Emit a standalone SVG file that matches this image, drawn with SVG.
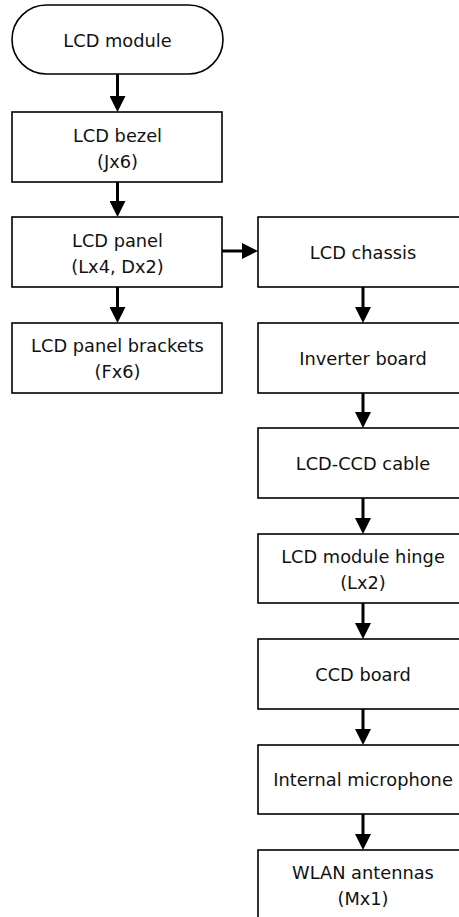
<svg xmlns="http://www.w3.org/2000/svg" width="459" height="917" viewBox="0 0 459 917">
<style>
  .box { fill: #ffffff; stroke: #000000; stroke-width: 1.6; }
  .lbl { font-family: "DejaVu Sans", "Liberation Sans", sans-serif; font-size: 17.8px; fill: #111111; text-anchor: middle; }
  .conn { stroke: #000000; stroke-width: 3; fill: none; marker-end: url(#arr); }
</style>
<defs>
  <marker id="arr" markerUnits="userSpaceOnUse" markerWidth="16" markerHeight="16" refX="1" refY="8" orient="auto">
    <path d="M0,0 L16,8 L0,16 Z" fill="#000000"/>
  </marker>
</defs>
<rect width="459" height="917" fill="#ffffff"/>
<g id="connectors">
  <line class="conn" x1="117.5" y1="74" x2="117.5" y2="97"/>
  <line class="conn" x1="117.5" y1="182" x2="117.5" y2="202"/>
  <line class="conn" x1="117.5" y1="287" x2="117.5" y2="308"/>
  <line class="conn" x1="222" y1="251" x2="243" y2="251"/>
  <line class="conn" x1="363" y1="287" x2="363" y2="308"/>
  <line class="conn" x1="363" y1="393" x2="363" y2="413"/>
  <line class="conn" x1="363" y1="498" x2="363" y2="519"/>
  <line class="conn" x1="363" y1="603" x2="363" y2="624"/>
  <line class="conn" x1="363" y1="709" x2="363" y2="730"/>
  <line class="conn" x1="363" y1="814" x2="363" y2="835"/>
</g>
<g id="lcd-module">
  <rect class="box" x="12" y="5" width="211" height="69" rx="34.5" ry="34.5"/>
  <text class="lbl" x="117.5" y="47">LCD module</text>
</g>
<g id="lcd-bezel">
  <rect class="box" x="12" y="112" width="210" height="70"/>
  <text class="lbl" x="117.5" y="142">LCD bezel</text>
  <text class="lbl" x="117.5" y="168">(Jx6)</text>
</g>
<g id="lcd-panel">
  <rect class="box" x="12" y="217" width="210" height="70"/>
  <text class="lbl" x="117.5" y="247">LCD panel</text>
  <text class="lbl" x="117.5" y="273">(Lx4, Dx2)</text>
</g>
<g id="lcd-panel-brackets">
  <rect class="box" x="12" y="323" width="210" height="70"/>
  <text class="lbl" x="117.5" y="352">LCD panel brackets</text>
  <text class="lbl" x="117.5" y="378">(Fx6)</text>
</g>
<g id="lcd-chassis">
  <rect class="box" x="258" y="217" width="210" height="70"/>
  <text class="lbl" x="363" y="259">LCD chassis</text>
</g>
<g id="inverter-board">
  <rect class="box" x="258" y="323" width="210" height="70"/>
  <text class="lbl" x="363" y="365">Inverter board</text>
</g>
<g id="lcd-ccd-cable">
  <rect class="box" x="258" y="428" width="210" height="70"/>
  <text class="lbl" x="363" y="470">LCD-CCD cable</text>
</g>
<g id="lcd-module-hinge">
  <rect class="box" x="258" y="534" width="210" height="69"/>
  <text class="lbl" x="363" y="563">LCD module hinge</text>
  <text class="lbl" x="363" y="589">(Lx2)</text>
</g>
<g id="ccd-board">
  <rect class="box" x="258" y="639" width="210" height="70"/>
  <text class="lbl" x="363" y="681">CCD board</text>
</g>
<g id="internal-microphone">
  <rect class="box" x="258" y="745" width="210" height="69"/>
  <text class="lbl" x="363" y="786">Internal microphone</text>
</g>
<g id="wlan-antennas">
  <rect class="box" x="258" y="850" width="210" height="70"/>
  <text class="lbl" x="363" y="879">WLAN antennas</text>
  <text class="lbl" x="363" y="905">(Mx1)</text>
</g>
</svg>
